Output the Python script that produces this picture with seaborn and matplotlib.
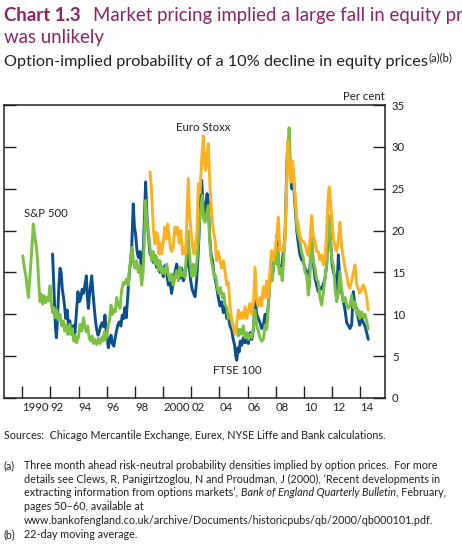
import seaborn as sns
import pandas as pd
import matplotlib.pyplot as plt

# (year, per cent)
sp500 = [
    (1990.03, 17.0), (1990.15, 15.5), (1990.25, 14.6), (1990.35, 13.2), (1990.43, 12.0),
    (1990.52, 14.0), (1990.62, 16.5), (1990.72, 19.0), (1990.78, 20.8), (1990.88, 19.5),
    (1991.00, 18.0), (1991.08, 16.5), (1991.18, 13.5), (1991.26, 11.5), (1991.35, 12.4),
    (1991.45, 11.2), (1991.55, 12.2), (1991.65, 11.4), (1991.75, 12.0), (1991.85, 11.6),
    (1991.97, 13.4), (1992.05, 11.5), (1992.15, 10.2), (1992.25, 10.8), (1992.35, 9.6),
    (1992.45, 10.5), (1992.55, 9.3), (1992.68, 10.0), (1992.80, 8.6), (1992.91, 9.2),
    (1993.00, 8.0), (1993.10, 8.7), (1993.22, 7.6), (1993.35, 8.8), (1993.45, 7.6),
    (1993.55, 8.3), (1993.65, 6.8), (1993.75, 7.5), (1993.85, 6.6), (1993.98, 7.2),
    (1994.10, 8.8), (1994.22, 8.0), (1994.35, 9.6), (1994.45, 8.4), (1994.55, 7.9),
    (1994.65, 8.6), (1994.75, 7.2), (1994.85, 6.8), (1994.95, 7.4), (1995.05, 6.5),
    (1995.16, 7.0), (1995.28, 6.4), (1995.40, 7.1), (1995.52, 6.5), (1995.62, 7.2),
    (1995.72, 6.8), (1995.82, 7.9), (1995.92, 6.9), (1996.02, 7.7), (1996.11, 8.7),
    (1996.20, 9.3), (1996.30, 11.1), (1996.40, 10.0), (1996.50, 10.6), (1996.60, 10.3),
    (1996.70, 12.0), (1996.80, 11.2), (1996.94, 10.7), (1997.05, 12.8), (1997.18, 13.8),
    (1997.29, 13.6), (1997.40, 14.2), (1997.53, 13.5), (1997.62, 15.6), (1997.72, 17.0),
    (1997.80, 18.0), (1997.90, 16.2), (1998.00, 15.5), (1998.12, 16.4), (1998.24, 15.0),
    (1998.36, 15.8), (1998.48, 13.5), (1998.58, 15.0), (1998.68, 19.5), (1998.76, 23.6),
    (1998.85, 21.0), (1998.95, 20.0), (1999.07, 18.0), (1999.18, 16.4), (1999.30, 17.5),
    (1999.42, 16.0), (1999.54, 16.8), (1999.66, 15.2), (1999.78, 16.4), (1999.90, 14.9),
    (2000.01, 15.5), (2000.12, 14.8), (2000.26, 16.0), (2000.38, 14.6), (2000.49, 14.0),
    (2000.60, 14.8), (2000.72, 13.5), (2000.84, 14.4), (2000.96, 15.2), (2001.08, 14.0),
    (2001.20, 15.6), (2001.32, 14.6), (2001.44, 15.0), (2001.55, 14.4), (2001.67, 17.5),
    (2001.76, 20.0), (2001.86, 17.6), (2001.96, 15.5), (2002.05, 14.5), (2002.15, 16.0),
    (2002.27, 14.6), (2002.38, 16.0), (2002.50, 18.5), (2002.60, 21.5), (2002.70, 23.0),
    (2002.78, 24.2), (2002.88, 21.4), (2002.98, 21.0), (2003.10, 22.0), (2003.21, 23.0),
    (2003.30, 19.0), (2003.42, 16.5), (2003.52, 15.6), (2003.62, 14.5), (2003.74, 14.6),
    (2003.86, 13.0), (2003.96, 12.5), (2004.08, 13.2), (2004.20, 12.0), (2004.30, 12.5),
    (2004.40, 11.2), (2004.52, 10.8), (2004.63, 9.5), (2004.75, 10.0), (2004.87, 9.0),
    (2004.98, 8.6), (2005.11, 8.0), (2005.23, 8.5), (2005.35, 7.4), (2005.46, 8.2),
    (2005.58, 7.6), (2005.70, 8.6), (2005.82, 7.2), (2005.94, 7.8), (2006.05, 7.0),
    (2006.17, 7.6), (2006.30, 7.2), (2006.42, 8.5), (2006.53, 10.5), (2006.64, 8.7),
    (2006.76, 8.0), (2006.88, 7.2), (2007.00, 6.8), (2007.12, 7.0), (2007.24, 8.7),
    (2007.36, 8.2), (2007.47, 11.0), (2007.57, 13.3), (2007.65, 15.5), (2007.75, 14.0),
    (2007.85, 16.0), (2007.95, 17.2), (2008.05, 16.0), (2008.15, 18.0), (2008.25, 14.8),
    (2008.36, 15.5), (2008.46, 14.0), (2008.56, 16.5), (2008.66, 19.1), (2008.75, 24.0),
    (2008.85, 29.5), (2008.95, 32.3), (2009.04, 28.0), (2009.14, 26.5), (2009.25, 27.2),
    (2009.37, 24.0), (2009.49, 20.4), (2009.60, 19.5), (2009.72, 18.7), (2009.84, 17.4),
    (2009.96, 16.7), (2010.08, 15.0), (2010.20, 14.7), (2010.31, 12.3), (2010.40, 13.5),
    (2010.50, 17.5), (2010.55, 19.1), (2010.65, 16.5), (2010.79, 15.5), (2010.90, 14.2),
    (2011.02, 13.9), (2011.14, 12.0), (2011.26, 11.1), (2011.38, 12.6), (2011.50, 14.3),
    (2011.62, 16.0), (2011.72, 21.0), (2011.78, 21.8), (2011.90, 18.5), (2012.00, 16.3),
    (2012.10, 15.8), (2012.22, 13.0), (2012.33, 11.5), (2012.45, 12.5), (2012.56, 15.1),
    (2012.68, 13.0), (2012.80, 11.5), (2012.92, 12.0), (2013.04, 11.2), (2013.15, 10.7),
    (2013.27, 11.0), (2013.39, 12.3), (2013.51, 10.8), (2013.63, 11.5), (2013.75, 10.0),
    (2013.86, 10.5), (2013.96, 9.5), (2014.10, 10.3), (2014.22, 9.6), (2014.34, 10.0),
    (2014.46, 9.2), (2014.57, 8.2),
]

ftse100 = [
    (1992.15, 17.2), (1992.25, 13.0), (1992.35, 8.5), (1992.42, 7.2), (1992.50, 9.4),
    (1992.60, 13.5), (1992.68, 15.5), (1992.76, 15.0), (1992.84, 13.0), (1992.91, 12.2),
    (1993.00, 11.0), (1993.08, 9.5), (1993.18, 10.5), (1993.28, 8.7), (1993.38, 9.2),
    (1993.46, 7.7), (1993.56, 8.2), (1993.66, 8.7), (1993.74, 7.8), (1993.85, 10.3),
    (1993.95, 12.7), (1994.05, 11.5), (1994.15, 11.9), (1994.25, 13.0), (1994.35, 12.5),
    (1994.45, 13.5), (1994.55, 14.6), (1994.62, 12.0), (1994.69, 10.7), (1994.78, 12.5),
    (1994.85, 13.5), (1994.93, 14.6), (1995.02, 12.5), (1995.10, 11.0), (1995.18, 9.5),
    (1995.28, 8.2), (1995.38, 7.5), (1995.48, 8.0), (1995.58, 8.7), (1995.68, 9.0),
    (1995.78, 8.5), (1995.87, 9.9), (1995.96, 8.0), (1996.04, 7.0), (1996.11, 6.0),
    (1996.20, 6.8), (1996.30, 7.5), (1996.40, 6.5), (1996.50, 6.2), (1996.60, 7.2),
    (1996.70, 8.1), (1996.80, 8.8), (1996.90, 9.1), (1997.00, 8.6), (1997.10, 9.9),
    (1997.20, 9.5), (1997.29, 10.8), (1997.38, 9.6), (1997.48, 11.9), (1997.60, 15.0),
    (1997.70, 16.3), (1997.77, 18.0), (1997.88, 23.2), (1997.96, 20.5), (1998.05, 19.5),
    (1998.15, 17.5), (1998.24, 16.8), (1998.36, 17.5), (1998.48, 14.9), (1998.58, 17.0),
    (1998.68, 22.0), (1998.76, 25.8), (1998.86, 21.4), (1998.95, 19.5), (1999.07, 17.2),
    (1999.18, 17.0), (1999.30, 16.2), (1999.42, 17.0), (1999.54, 15.6), (1999.66, 16.4),
    (1999.78, 15.0), (1999.90, 15.6), (2000.01, 14.5), (2000.12, 15.8), (2000.26, 14.8),
    (2000.38, 13.5), (2000.49, 14.0), (2000.60, 12.5), (2000.72, 13.8), (2000.84, 15.0),
    (2000.96, 16.0), (2001.08, 15.2), (2001.20, 14.3), (2001.32, 15.5), (2001.44, 14.0),
    (2001.55, 14.6), (2001.66, 16.0), (2001.76, 18.0), (2001.86, 15.6), (2001.96, 14.0),
    (2002.06, 13.0), (2002.16, 12.5), (2002.27, 12.1), (2002.38, 14.0), (2002.50, 17.5),
    (2002.62, 22.0), (2002.74, 26.0), (2002.82, 23.5), (2002.92, 22.0), (2003.02, 23.0),
    (2003.12, 24.4), (2003.21, 23.5), (2003.30, 19.5), (2003.40, 17.2), (2003.50, 16.5),
    (2003.60, 15.0), (2003.69, 14.3), (2003.80, 13.3), (2003.92, 12.0), (2004.04, 11.0),
    (2004.16, 11.5), (2004.28, 10.2), (2004.40, 11.0), (2004.52, 9.5), (2004.63, 9.8),
    (2004.75, 8.6), (2004.87, 8.1), (2004.98, 7.0), (2005.08, 6.3), (2005.16, 5.0),
    (2005.23, 4.5), (2005.32, 6.0), (2005.40, 5.5), (2005.48, 6.8), (2005.58, 6.3),
    (2005.70, 7.2), (2005.82, 6.6), (2005.94, 7.3), (2006.05, 6.5), (2006.17, 7.8),
    (2006.30, 7.0), (2006.42, 8.2), (2006.53, 12.0), (2006.64, 10.0), (2006.76, 9.5),
    (2006.88, 9.0), (2007.00, 8.3), (2007.12, 8.7), (2007.24, 10.0), (2007.36, 9.0),
    (2007.47, 11.0), (2007.58, 14.0), (2007.70, 16.5), (2007.80, 15.0), (2007.90, 17.0),
    (2008.00, 17.6), (2008.10, 19.5), (2008.20, 16.0), (2008.30, 15.2), (2008.42, 15.5),
    (2008.54, 17.5), (2008.66, 19.5), (2008.76, 26.0), (2008.85, 30.7), (2008.93, 30.0),
    (2009.04, 27.5), (2009.14, 25.0), (2009.25, 26.0), (2009.37, 23.0), (2009.49, 20.0),
    (2009.60, 18.5), (2009.72, 17.1), (2009.84, 16.5), (2009.96, 16.3), (2010.08, 15.5),
    (2010.20, 15.1), (2010.31, 14.5), (2010.42, 15.5), (2010.55, 18.8), (2010.65, 16.5),
    (2010.79, 14.3), (2010.90, 13.5), (2011.02, 12.7), (2011.14, 13.2), (2011.26, 13.0),
    (2011.38, 13.6), (2011.50, 14.3), (2011.62, 16.0), (2011.72, 20.5), (2011.78, 21.5),
    (2011.90, 18.5), (2012.00, 16.0), (2012.10, 15.0), (2012.22, 14.5), (2012.33, 12.5),
    (2012.45, 17.1), (2012.56, 13.5), (2012.68, 12.7), (2012.80, 11.5), (2012.92, 10.5),
    (2013.04, 9.0), (2013.15, 8.7), (2013.27, 8.3), (2013.39, 8.7), (2013.51, 12.7),
    (2013.63, 11.0), (2013.75, 10.7), (2013.86, 9.5), (2013.96, 8.7), (2014.10, 9.5),
    (2014.22, 9.0), (2014.34, 8.6), (2014.46, 7.8), (2014.57, 7.0),
]

euro_stoxx = [
    (1999.07, 27.0), (1999.15, 25.5), (1999.22, 23.2), (1999.32, 20.0), (1999.42, 18.4),
    (1999.50, 19.8), (1999.60, 19.6), (1999.70, 17.2), (1999.80, 18.5), (1999.90, 17.2),
    (2000.01, 18.5), (2000.12, 20.4), (2000.22, 19.0), (2000.32, 20.8), (2000.42, 19.5),
    (2000.52, 18.0), (2000.62, 17.5), (2000.72, 18.0), (2000.82, 20.4), (2000.92, 19.5),
    (2001.02, 20.4), (2001.14, 18.5), (2001.26, 20.0), (2001.38, 17.2), (2001.50, 18.0),
    (2001.60, 17.2), (2001.70, 22.0), (2001.79, 26.2), (2001.88, 22.0), (2001.98, 20.0),
    (2002.10, 18.0), (2002.20, 17.2), (2002.30, 18.5), (2002.40, 19.5), (2002.50, 25.6),
    (2002.62, 24.5), (2002.74, 28.5), (2002.86, 31.3), (2002.94, 28.0), (2003.02, 27.2),
    (2003.12, 29.0), (2003.21, 30.4), (2003.32, 25.6), (2003.45, 22.0), (2003.57, 20.0),
    (2003.69, 18.8), (2003.80, 16.4), (2003.92, 17.5), (2004.04, 16.4), (2004.16, 15.5),
    (2004.28, 16.4), (2004.40, 15.1), (2004.52, 13.5), (2004.63, 13.8), (2004.75, 11.0),
    (2004.87, 9.5), (2004.98, 8.5), (2005.11, 7.6), (2005.23, 9.0), (2005.35, 10.5),
    (2005.46, 9.5), (2005.58, 10.2), (2005.70, 9.5), (2005.82, 10.9), (2005.94, 9.5),
    (2006.05, 10.5), (2006.17, 11.3), (2006.30, 10.0), (2006.42, 11.5), (2006.53, 15.6),
    (2006.64, 11.8), (2006.76, 10.9), (2006.88, 12.0), (2007.00, 11.0), (2007.12, 13.3),
    (2007.24, 12.0), (2007.36, 14.0), (2007.47, 12.0), (2007.58, 15.0), (2007.71, 17.6),
    (2007.82, 16.4), (2007.95, 17.5), (2008.08, 19.5), (2008.18, 21.6), (2008.30, 17.6),
    (2008.42, 17.8), (2008.54, 17.6), (2008.66, 19.1), (2008.76, 24.0), (2008.85, 30.7),
    (2008.93, 29.0), (2009.01, 26.8), (2009.10, 25.8), (2009.20, 28.3), (2009.30, 25.6),
    (2009.40, 23.5), (2009.49, 21.4), (2009.60, 20.8), (2009.72, 19.4), (2009.84, 18.8),
    (2009.96, 18.7), (2010.08, 18.4), (2010.20, 17.6), (2010.31, 17.0), (2010.42, 18.5),
    (2010.55, 21.8), (2010.65, 19.5), (2010.79, 18.7), (2010.90, 17.5), (2011.02, 17.5),
    (2011.14, 16.5), (2011.26, 17.1), (2011.38, 15.9), (2011.50, 16.5), (2011.62, 20.0),
    (2011.72, 24.0), (2011.80, 25.2), (2011.90, 23.2), (2012.00, 21.2), (2012.10, 19.0),
    (2012.22, 18.0), (2012.33, 17.5), (2012.45, 19.0), (2012.56, 21.0), (2012.68, 18.0),
    (2012.80, 16.7), (2012.92, 15.5), (2013.04, 14.7), (2013.15, 13.5), (2013.27, 13.1),
    (2013.39, 14.0), (2013.51, 15.0), (2013.63, 15.9), (2013.75, 13.5), (2013.86, 13.1),
    (2013.96, 12.5), (2014.10, 13.0), (2014.22, 13.5), (2014.34, 13.0), (2014.46, 12.0),
    (2014.57, 10.5),
]

series_names = ['FTSE 100', 'S&P 500', 'Euro Stoxx']
series_colors = ['#0B4F8C', '#7BBF43', '#FDB022']
tick_years = list(range(1990, 2015, 2))
tick_labels = ['1990', '92', '94', '96', '98', '2000', '02', '04', '06', '08', '10', '12', '14']

W, H = 462, 547
TITLE = '#8A2462'
INK = '#231F20'

sns.set_style('ticks')
plt.rcParams['font.family'] = ['Lato', 'DejaVu Sans']

fig = plt.figure(figsize=(W / 100, H / 100), dpi=100)
ax = fig.add_axes([4 / W, 1 - 398 / H, 381 / W, 293 / H])

df = pd.concat([
    pd.DataFrame(ftse100, columns=['year', 'value']).assign(index='FTSE 100'),
    pd.DataFrame(sp500, columns=['year', 'value']).assign(index='S&P 500'),
    pd.DataFrame(euro_stoxx, columns=['year', 'value']).assign(index='Euro Stoxx'),
])
sns.lineplot(data=df, x='year', y='value', hue='index', hue_order=series_names,
             palette=series_colors, estimator=None, sort=False, legend=False,
             linewidth=2.1, ax=ax)

ax.set_xlim(1988.7, 2015.76)
ax.set_ylim(0, 35)
ax.set_xlabel('')
ax.set_ylabel('')
for s in ax.spines.values():
    s.set_visible(True)
    s.set_linewidth(1.1)
    s.set_color(INK)

ax.set_yticks(range(0, 36, 5))
ax.tick_params(axis='y', direction='in', length=8.8, width=1.0, color=INK,
               left=True, right=True, labelleft=False, labelright=True,
               labelsize=8.2, labelcolor=INK, pad=5)
ax.set_xticks(tick_years)
ax.set_xticklabels(tick_labels)
ax.tick_params(axis='x', direction='in', length=8.8, width=1.0, color=INK,
               labelsize=8.2, labelcolor=INK, pad=3)
for lbl in ax.get_xticklabels():
    lbl.set_ha('left')

ax.text(1990.12, 22.0, 'S&P 500', fontsize=8.2, color=INK, va='center')
ax.text(2000.92, 32.3, 'Euro Stoxx', fontsize=8.2, color=INK, va='center')
ax.text(2003.55, 3.3, 'FTSE 100', fontsize=8.2, color=INK, va='center')
fig.text(385 / W, 1 - 96 / H, 'Per cent', fontsize=8.2, color=INK, ha='right', va='center')

r = fig.canvas.get_renderer()


def put(x, y, s, size, **kw):
    t = fig.text(x / W, 1 - y / H, s, fontsize=size, va='baseline', **kw)
    return x + t.get_window_extent(r).width


def fit(s, width, size, **kw):
    t = fig.text(0, 0, s, fontsize=size, **kw)
    w = t.get_window_extent(r).width
    t.remove()
    return size * width / w


# title and subtitle (the first title line runs off the right edge in the source)
tsize = fit('Chart 1.3', 77, 13, fontweight='bold')
put(4, 21, 'Chart 1.3', tsize, fontweight='bold', color=TITLE)
put(93, 21, 'Market pricing implied a large fall in equity pr', tsize, color=TITLE)
put(4, 43, 'was unlikely', tsize, color=TITLE)

sub = 'Option-implied probability of a 10% decline in equity prices'
ssize = fit(sub, 424, 11)
end = put(4, 66, sub, ssize, color=INK)
put(end + 1, 61, '(a)(b)', ssize * 0.68, color=INK)

# footnotes
src = 'Sources:  Chicago Mercantile Exchange, Eurex, NYSE Liffe and Bank calculations.'
fsize = fit(src, 384, 8)
put(4, 439, src, fsize, color=INK)

url = 'www.bankofengland.co.uk/archive/Documents/historicpubs/qb/2000/qb000101.pdf.'
put(4, 469, '(a)', fsize, color=INK)
put(24, 469, 'Three month ahead risk-neutral probability densities implied by option prices.  For more', fsize, color=INK)
put(24, 483, 'details see Clews, R, Panigirtzoglou, N and Proudman, J (2000), \u2018Recent developments in', fsize, color=INK)
x = put(24, 496, 'extracting information from options markets\u2019, ', fsize, color=INK)
x = put(x, 496, 'Bank of England Quarterly Bulletin', fsize, color=INK, fontstyle='italic')
put(x, 496, ', February,', fsize, color=INK)
put(24, 510, 'pages 50\u201360, available at', fsize, color=INK)
put(24, 524, url, fsize, color=INK)
put(4, 538, '(b)', fsize, color=INK)
put(24, 538, '22-day moving average.', fsize, color=INK)

fig.savefig('out.png', dpi=100)
